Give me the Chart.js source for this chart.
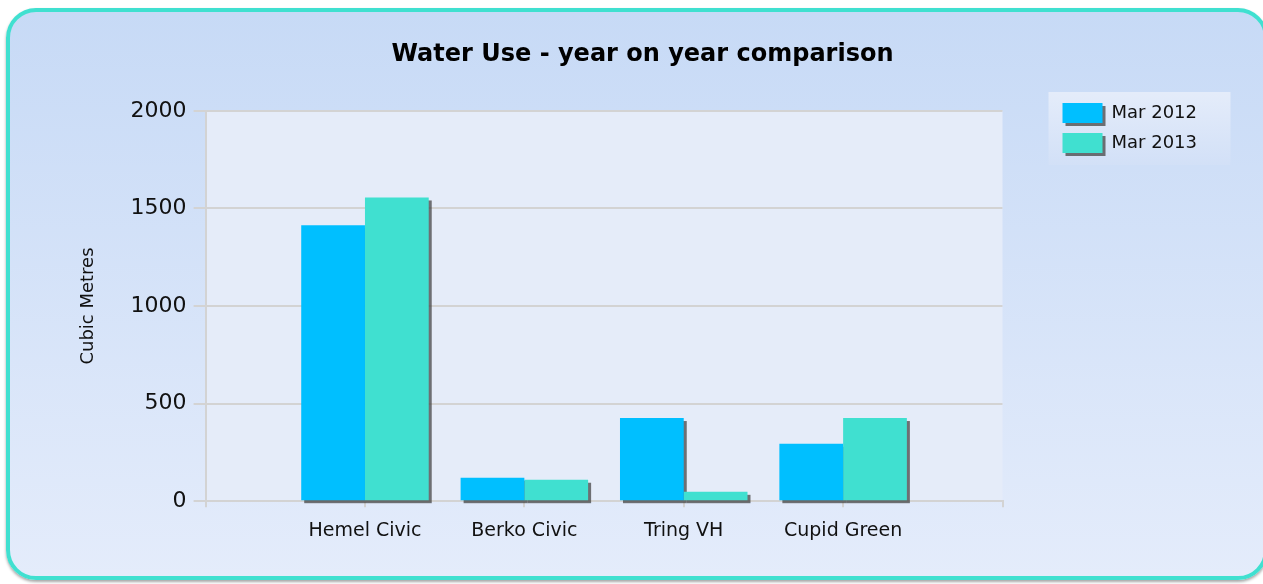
<!DOCTYPE html>
<html>
<head>
<meta charset="utf-8">
<title>Water Use - year on year comparison</title>
<script src="https://cdn.jsdelivr.net/npm/chart.js@4"></script>
<style>
  html, body { margin: 0; padding: 0; background: #fff; overflow: hidden; }
  #frame {
    position: absolute; left: 6px; top: 8px;
    width: 1262px; height: 572px; box-sizing: border-box;
    border: 4px solid #40e0d0; border-radius: 30px;
    background: linear-gradient(#c7daf6, #e4ecfb);
    box-shadow: 0 2px 3px rgba(0,0,0,0.35);
    overflow: hidden;
  }
  #chartBox { position: absolute; left: 0; top: 0; width: 1254px; height: 564px; }
</style>
</head>
<body>
<div id="frame"><div id="chartBox"><canvas id="waterChart"></canvas></div></div>
<script>
const categories = ['Hemel Civic', 'Berko Civic', 'Tring VH', 'Cupid Green'];
const mar2012 = [1414, 120, 426, 294];
const mar2013 = [1556, 110, 48, 426];
const yTicks = [0, 500, 1000, 1500, 2000];

// empty slots either side so the groups sit between the axis ends
const labels = [''].concat(categories, ['']);
const pad = values => [null].concat(values, [null]);

const gridGrey = '#d3d3d3';

const backdrop = {
    id: 'backdrop',
    afterLayout(chart) {
        // park the legend up beside the title like the original
        const lg = chart.legend;
        const h = lg.bottom - lg.top;
        lg.top = 81;
        lg.bottom = 81 + h;
    },
    beforeDraw(chart) {
        const { ctx, chartArea: a, legend } = chart;
        ctx.save();
        ctx.fillStyle = '#e5ecf9';
        ctx.fillRect(a.left, a.top, a.right - a.left, a.bottom - a.top);

        const g = ctx.createLinearGradient(0, legend.top, 0, legend.top + 73);
        g.addColorStop(0, '#e4ecfa');
        g.addColorStop(1, '#d2e0f7');
        ctx.fillStyle = g;
        ctx.fillRect(legend.left - 4, legend.top - 1, 182, 73);

        // little shadows under the legend swatches
        ctx.fillStyle = 'rgba(70,70,70,0.75)';
        legend.legendItems.forEach((item, i) => {
            ctx.fillRect(legend.left + 13, legend.top + 13 + i * 30, 40, 20);
        });
        ctx.restore();
    },
    beforeDatasetsDraw(chart) {
        const ctx = chart.ctx;
        ctx.save();
        ctx.fillStyle = 'rgba(70,70,70,0.75)';
        chart.data.datasets.forEach((ds, di) => {
            chart.getDatasetMeta(di).data.forEach((bar, i) => {
                if (ds.data[i] == null) return;
                const { x, y, base, width } = bar.getProps(['x', 'y', 'base', 'width'], true);
                ctx.fillRect(x - width / 2 + 3, y + 3, width, base - y);
            });
        });
        ctx.restore();
    }
};

Chart.defaults.font.family = '"DejaVu Sans", Verdana, sans-serif';
Chart.defaults.color = '#111';

const ctx = document.getElementById('waterChart').getContext('2d');
const waterChart = new Chart(ctx, {
    type: 'bar',
    data: {
        labels: labels,
        datasets: [{
            label: 'Mar 2012',
            data: pad(mar2012),
            backgroundColor: '#00bfff',
            borderWidth: 0
        }, {
            label: 'Mar 2013',
            data: pad(mar2013),
            backgroundColor: '#40e0d0',
            borderWidth: 0
        }]
    },
    options: {
        responsive: true,
        maintainAspectRatio: false,
        animation: false,
        categoryPercentage: 0.8,
        barPercentage: 1.0,
        layout: { padding: { left: 68, right: 57, top: 0, bottom: 22 } },
        plugins: {
            title: {
                display: true,
                text: 'Water Use - year on year comparison',
                color: '#000',
                font: { size: 24, weight: 'bold' },
                padding: { top: 28, bottom: 42 }
            },
            legend: {
                position: 'right',
                align: 'start',
                labels: {
                    boxWidth: 40,
                    boxHeight: 20,
                    padding: 10,
                    color: '#111',
                    font: { size: 18 }
                }
            },
            tooltip: { enabled: false }
        },
        scales: {
            x: {
                offset: false,
                grid: { offset: false, drawOnChartArea: false, color: gridGrey, lineWidth: 2, tickLength: 6 },
                border: { color: gridGrey, width: 2 },
                ticks: { font: { size: 19 }, color: '#111', padding: 12, maxRotation: 0, autoSkip: false }
            },
            y: {
                min: 0,
                max: 2000,
                afterBuildTicks(scale) { scale.ticks = yTicks.map(v => ({ value: v })); },
                grid: { color: gridGrey, lineWidth: 2, tickLength: 12 },
                border: { color: gridGrey, width: 2 },
                ticks: { font: { size: 22 }, color: '#111', padding: 7, callback: v => String(v) },
                title: {
                    display: true,
                    text: 'Cubic Metres',
                    color: '#111',
                    font: { size: 18 },
                    padding: { top: 0, bottom: 24 }
                }
            },
            gap: {
                type: 'linear',
                position: 'right',
                grid: { display: false, drawTicks: false },
                border: { display: false },
                ticks: { display: false },
                afterFit(scale) { scale.width = 50; }
            }
        }
    },
    plugins: [backdrop]
});
</script>
</body>
</html>
